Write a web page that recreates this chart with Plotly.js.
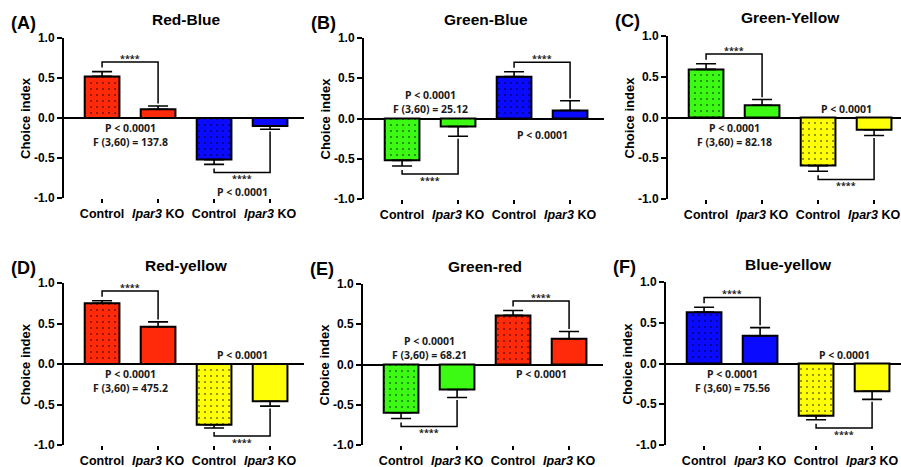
<!DOCTYPE html>
<html>
<head>
<meta charset="utf-8">
<script src="https://cdn.plot.ly/plotly-3.0.1.min.js"></script>
<style>html,body{margin:0;padding:0;background:#fff;}#chart{width:901px;height:467px;}</style>
</head>
<body>
<div id="chart"></div>
<script>
// ---- data ----
const panelLabels = ['(A)', '(B)', '(C)', '(D)', '(E)', '(F)'];
const panelTitles = ['Red-Blue', 'Green-Blue', 'Green-Yellow', 'Red-yellow', 'Green-red', 'Blue-yellow'];
const categories = ['Control', '<i>Ipar3</i> KO', 'Control', '<i>Ipar3</i> KO'];
const meanA = [0.52, 0.11, -0.52, -0.10];
const meanB = [-0.52, -0.10, 0.52, 0.10];
const meanC = [0.59, 0.15, -0.59, -0.15];
const meanD = [0.75, 0.46, -0.75, -0.46];
const meanE = [-0.60, -0.31, 0.61, 0.32];
const meanF = [0.63, 0.34, -0.64, -0.34];
const semA = [0.06, 0.04, 0.06, 0.04];
const semB = [0.07, 0.12, 0.06, 0.12];
const semC = [0.07, 0.07, 0.07, 0.07];
const semD = [0.03, 0.06, 0.04, 0.06];
const semE = [0.07, 0.10, 0.06, 0.09];
const semF = [0.06, 0.10, 0.05, 0.10];
const colourPairs = [['red', 'blue'], ['green', 'blue'], ['green', 'yellow'], ['red', 'yellow'], ['green', 'red'], ['blue', 'yellow']];
const fStats = ['137.8', '25.12', '82.18', '475.2', '68.21', '75.56'];
const pText = 'P < 0.0001';
const starText = '****';

// ---- styles / layout ----
const palette = {red: '#FF2A0A', blue: '#0A0AFF', green: '#3CFA14', yellow: '#FFFF0A'};
const means = [meanA, meanB, meanC, meanD, meanE, meanF];
const sems = [semA, semB, semC, semD, semE, semF];
const W = 901, H = 467;
const boxes = [ // axis left px, top px (y=1), bottom px (y=-1)
  [64, 38, 198], [364, 38, 199], [668, 36, 199],
  [64, 283, 445], [363, 284, 445], [666, 282, 445]
];
const rightPY = [-0.93, -0.2, 0.11, 0.11, -0.12, 0.10];
const FAM = 'Liberation Sans, Arial, sans-serif';
const NOTE = 'Noto Sans, Open Sans, sans-serif';
const pxPerCat = 56, leftPad = 0.68;

const traces = [];
const layout = {
  width: W, height: H, autosize: false,
  margin: {l: 0, r: 0, t: 0, b: 0},
  paper_bgcolor: '#fff', plot_bgcolor: 'rgba(0,0,0,0)',
  showlegend: false, annotations: [], shapes: [],
  font: {family: FAM, color: '#000'}
};

means.forEach((m, i) => {
  const n = i === 0 ? '' : String(i + 1);
  const xa = 'x' + n, ya = 'y' + n;
  const [left, top, bottom] = boxes[i];
  const right = Math.min(left + 240, W);
  const xs = categories.map((c, k) => k);
  const s = sems[i];
  m.forEach((v, k) => {
    const col = palette[colourPairs[i][k < 2 ? 0 : 1]];
    const isControl = k % 2 === 0;
    const marker = {color: col, line: {color: '#000', width: 2}};
    if (isControl) marker.pattern = {shape: '.', fgcolor: '#000', bgcolor: col, size: 6, solidity: 0.1, fillmode: 'overlay'};
    traces.push({
      type: 'bar', x: [xs[k]], y: [v], xaxis: xa, yaxis: ya, width: 0.62,
      marker: marker,
      error_y: {
        type: 'data', symmetric: false,
        array: [v >= 0 ? s[k] : 0],
        arrayminus: [v < 0 ? s[k] : 0],
        color: '#000', thickness: 1.6, width: 10
      },
      hoverinfo: 'skip'
    });
  });
  layout['xaxis' + n] = {
    domain: [left / W, right / W], anchor: ya,
    range: [-leftPad, -leftPad + (right - left) / pxPerCat],
    tickvals: xs, ticktext: categories,
    ticks: 'outside', ticklen: 4, tickwidth: 1.5, tickcolor: '#000',
    showline: false, showgrid: false, zeroline: false, automargin: false,
    tickfont: {family: FAM, size: 12.5, weight: 'bold', color: '#000'}
  };
  layout['yaxis' + n] = {
    domain: [1 - bottom / H, 1 - top / H], anchor: xa,
    range: [-1, 1], tickvals: [-1, -0.5, 0, 0.5, 1], ticktext: ['-1.0', '-0.5', '0.0', '0.5', '1.0'],
    ticks: 'outside', ticklen: 5, tickwidth: 2, tickcolor: '#000',
    showline: true, linewidth: 2, linecolor: '#000', showgrid: false,
    zeroline: true, zerolinewidth: 2, zerolinecolor: '#000', automargin: false,
    tickfont: {family: FAM, size: 12, weight: 'bold', color: '#000'}
  };
  // title, panel label, y-axis title
  layout.annotations.push({xref: xa, yref: 'paper', x: 1.5, y: 1 - (top - 18) / H, text: panelTitles[i],
    showarrow: false, xanchor: 'center', yanchor: 'middle', font: {family: FAM, size: 15.5, weight: 'bold'}});
  layout.annotations.push({xref: 'paper', yref: 'paper', x: (left - 55) / W, y: 1 - (top - 15) / H, text: panelLabels[i],
    showarrow: false, xanchor: 'left', yanchor: 'middle', font: {family: FAM, size: 18, weight: 'bold'}});
  layout.annotations.push({xref: 'paper', yref: 'paper', x: (left - 39) / W, y: 1 - (top + bottom) / 2 / H, text: 'Choice index',
    textangle: -90, showarrow: false, xanchor: 'center', yanchor: 'middle', font: {family: FAM, size: 13, weight: 'bold'}});
  // statistics text
  const leftSign = Math.sign(m[0]);
  const statY = leftSign > 0 ? -0.215 : 0.2;
  const noteFont = {family: NOTE, size: 10.5, weight: 'bold', color: '#1a1a1a'};
  layout.annotations.push({xref: xa, yref: ya, x: 0.5, y: statY, text: pText + '<br>F (3,60) = ' + fStats[i],
    showarrow: false, borderpad: 0, align: 'center', font: noteFont});
  layout.annotations.push({xref: xa, yref: ya, x: 2.5, y: rightPY[i], text: pText, showarrow: false, borderpad: 0, font: noteFont});
  // significance brackets
  [0, 2].forEach(c => {
    const k = c + 1;
    const sg = Math.sign(m[c]);
    const cEnd = m[c] + sg * s[c];
    const kEnd = m[k] + sg * s[k];
    const level = cEnd + sg * (sg > 0 ? 0.12 : 0.10);
    layout.shapes.push({type: 'path', xref: xa, yref: ya,
      path: `M ${c},${cEnd + sg * 0.05} L ${c},${level} L ${k},${level} L ${k},${kEnd + sg * 0.03}`,
      line: {color: '#000', width: 1.5}});
    layout.annotations.push({xref: xa, yref: ya, x: (c + k) / 2, y: level, text: starText, showarrow: false,
      xanchor: 'center', yanchor: sg > 0 ? 'bottom' : 'top', yshift: sg > 0 ? -4 : 1, borderpad: 0,
      font: {family: NOTE, size: 9, weight: 'bold', color: '#1a1a1a'}});
  });
});

Plotly.newPlot('chart', traces, layout, {displayModeBar: false, staticPlot: true});
</script>
</body>
</html>
